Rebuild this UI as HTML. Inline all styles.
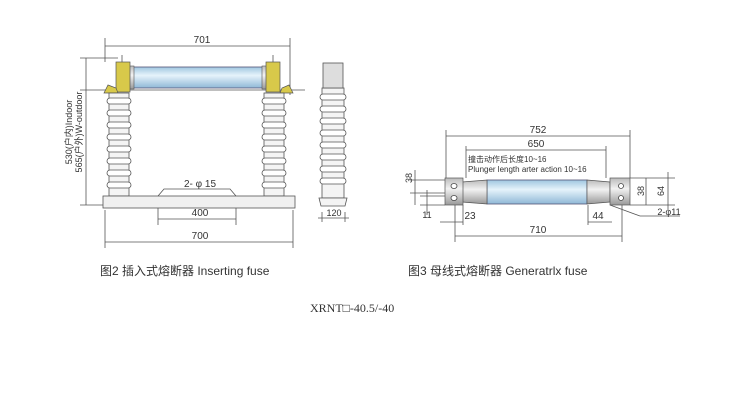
<!DOCTYPE html><html><head><meta charset="utf-8"><style>body{margin:0;background:#fff}svg{display:block}text{font-family:"Liberation Sans","Noto Sans CJK SC",sans-serif;fill:#333}</style></head><body>
<svg width="750" height="420" viewBox="0 0 750 420" xmlns="http://www.w3.org/2000/svg">
<defs>
<linearGradient id="tb" x1="0" y1="0" x2="0" y2="1"><stop offset="0" stop-color="#9fc6e0"/><stop offset="0.4" stop-color="#e6f3fb"/><stop offset="1" stop-color="#8fb8d6"/></linearGradient>
<linearGradient id="gr" x1="0" y1="0" x2="0" y2="1"><stop offset="0" stop-color="#bbb"/><stop offset="0.4" stop-color="#f2f2f2"/><stop offset="1" stop-color="#999"/></linearGradient>
</defs>
<g stroke="#555" stroke-width="0.8" fill="none">
<line x1="105" y1="46" x2="290" y2="46"/><line x1="105" y1="38" x2="105" y2="62"/><line x1="290" y1="38" x2="290" y2="95"/>
<line x1="86" y1="58" x2="86" y2="205"/><line x1="80" y1="58" x2="118" y2="58"/><line x1="80" y1="90" x2="305" y2="90"/><line x1="80" y1="205" x2="105" y2="205"/>
<line x1="105" y1="210" x2="105" y2="248"/><line x1="293" y1="210" x2="293" y2="248"/><line x1="105" y1="242" x2="293" y2="242"/>
<line x1="158" y1="196" x2="158" y2="225"/><line x1="236" y1="196" x2="236" y2="225"/><line x1="158" y1="219" x2="236" y2="219"/>
<polyline points="158,196 164,189 230,189 236,196"/>
<line x1="322" y1="212" x2="322" y2="222"/><line x1="345" y1="212" x2="345" y2="222"/><line x1="318" y1="218" x2="349" y2="218"/>
</g>
<g font-size="10" text-anchor="middle">
<text x="202" y="43">701</text><text x="200" y="216">400</text><text x="200" y="239">700</text><text x="200" y="187">2- φ 15</text><text x="334" y="216" font-size="9">120</text>
</g>
<text transform="translate(72,132) rotate(-90)" font-size="9" text-anchor="middle">530(户内)Indoor</text>
<text transform="translate(82,132) rotate(-90)" font-size="9" text-anchor="middle">565(户外)W-outdoor</text>
<rect x="133" y="67" width="130" height="21" fill="url(#tb)" stroke="#557" stroke-width="0.8"/>
<rect x="129" y="66" width="5" height="23" fill="url(#gr)" stroke="#555" stroke-width="0.6"/>
<rect x="262" y="66" width="5" height="23" fill="url(#gr)" stroke="#555" stroke-width="0.6"/>
<g fill="#d8c94a" stroke="#555" stroke-width="0.7">
<rect x="116" y="62" width="14" height="30"/><rect x="266" y="62" width="14" height="30"/>
<path d="M104 93 L108 85 L116 88 L118 93Z"/><path d="M280 93 L282 88 L289 85 L293 93Z"/>
</g>
<g stroke="#555" stroke-width="0.8">
<line x1="122" y1="55" x2="122" y2="62"/><line x1="273" y1="55" x2="273" y2="62"/>
</g>
<g fill="#f4f4f4" stroke="#555" stroke-width="0.8">
<rect x="109" y="93" width="20" height="103"/><rect x="264" y="93" width="20" height="103"/>
<rect x="103" y="196" width="192" height="12" fill="#f0f0f0"/>
<rect x="322" y="88" width="22" height="110"/>
<rect x="323" y="63" width="20" height="25" fill="#ddd"/>
<path d="M319 198 L347 198 L345 206 L321 206Z"/>
</g>
<g fill="#fff" stroke="#555" stroke-width="0.8">
<rect x="107" y="98" width="24" height="6" rx="3"/><rect x="107" y="110" width="24" height="6" rx="3"/><rect x="107" y="122" width="24" height="6" rx="3"/><rect x="107" y="134" width="24" height="6" rx="3"/><rect x="107" y="146" width="24" height="6" rx="3"/><rect x="107" y="158" width="24" height="6" rx="3"/><rect x="107" y="170" width="24" height="6" rx="3"/><rect x="107" y="182" width="24" height="6" rx="3"/>
<rect x="262" y="98" width="24" height="6" rx="3"/><rect x="262" y="110" width="24" height="6" rx="3"/><rect x="262" y="122" width="24" height="6" rx="3"/><rect x="262" y="134" width="24" height="6" rx="3"/><rect x="262" y="146" width="24" height="6" rx="3"/><rect x="262" y="158" width="24" height="6" rx="3"/><rect x="262" y="170" width="24" height="6" rx="3"/><rect x="262" y="182" width="24" height="6" rx="3"/>
<rect x="320" y="94" width="26" height="6" rx="3"/><rect x="320" y="106" width="26" height="6" rx="3"/><rect x="320" y="118" width="26" height="6" rx="3"/><rect x="320" y="130" width="26" height="6" rx="3"/><rect x="320" y="142" width="26" height="6" rx="3"/><rect x="320" y="154" width="26" height="6" rx="3"/><rect x="320" y="166" width="26" height="6" rx="3"/><rect x="320" y="178" width="26" height="6" rx="3"/>
</g>
<g stroke="#555" stroke-width="0.8" fill="none">
<line x1="446" y1="136" x2="630" y2="136"/><line x1="446" y1="130" x2="446" y2="178"/><line x1="630" y1="130" x2="630" y2="178"/>
<line x1="466" y1="150" x2="606" y2="150"/><line x1="466" y1="146" x2="466" y2="178"/><line x1="606" y1="146" x2="606" y2="178"/>
<line x1="455" y1="205" x2="455" y2="242"/><line x1="622" y1="205" x2="622" y2="242"/><line x1="455" y1="236" x2="622" y2="236"/>
<line x1="440" y1="222" x2="463" y2="222"/><line x1="588" y1="222" x2="612" y2="222"/><line x1="463" y1="205" x2="463" y2="225"/><line x1="588" y1="205" x2="588" y2="225"/>
<line x1="410" y1="180" x2="445" y2="180"/><line x1="410" y1="193" x2="445" y2="193"/><line x1="415" y1="170" x2="415" y2="205"/>
<line x1="420" y1="196" x2="445" y2="196"/><line x1="420" y1="205" x2="445" y2="205"/><line x1="427" y1="190" x2="427" y2="215"/>
<line x1="630" y1="178" x2="675" y2="178"/><line x1="630" y1="205" x2="675" y2="205"/><line x1="646" y1="178" x2="646" y2="205"/><line x1="668" y1="172" x2="668" y2="210"/>
<line x1="610" y1="205" x2="640" y2="216"/><line x1="640" y1="216" x2="680" y2="216"/>
</g>
<rect x="487" y="180" width="100" height="24" fill="url(#tb)" stroke="#557" stroke-width="0.8"/>
<g fill="url(#gr)" stroke="#555" stroke-width="0.7">
<path d="M462 182 L487 180 L487 204 L462 202Z"/><path d="M587 180 L610 182 L610 202 L587 204Z"/>
<rect x="445" y="178" width="18" height="27"/><rect x="610" y="178" width="20" height="27"/>
</g>
<g fill="#fff" stroke="#444" stroke-width="0.8">
<ellipse cx="454" cy="186" rx="3" ry="2.5"/><ellipse cx="454" cy="198" rx="3" ry="2.5"/>
<circle cx="621" cy="186" r="2.5"/><circle cx="621" cy="198" r="2.5"/>
</g>
<g font-size="10" text-anchor="middle">
<text x="538" y="133">752</text><text x="536" y="147">650</text><text x="538" y="233">710</text>
<text x="470" y="219">23</text><text x="598" y="219">44</text><text x="427" y="218" font-size="9">11</text>
<text transform="translate(412,178) rotate(-90)" font-size="9">38</text>
<text transform="translate(644,191) rotate(-90)" font-size="9">38</text>
<text transform="translate(664,191) rotate(-90)" font-size="9">64</text>
<text x="669" y="215" font-size="9">2-φ11</text>
</g>
<text x="468" y="162" font-size="8">撞击动作后长度10~16</text>
<text x="468" y="172" font-size="8">Plunger length arter action 10~16</text>
<text x="100" y="275" font-size="12">图2 插入式熔断器 Inserting fuse</text>
<text x="408" y="275" font-size="12">图3 母线式熔断器 Generatrlx fuse</text>
<text x="310" y="312" font-size="12" style="font-family:'Liberation Serif',serif">XRNT□-40.5/-40</text>
</svg>
</body></html>
